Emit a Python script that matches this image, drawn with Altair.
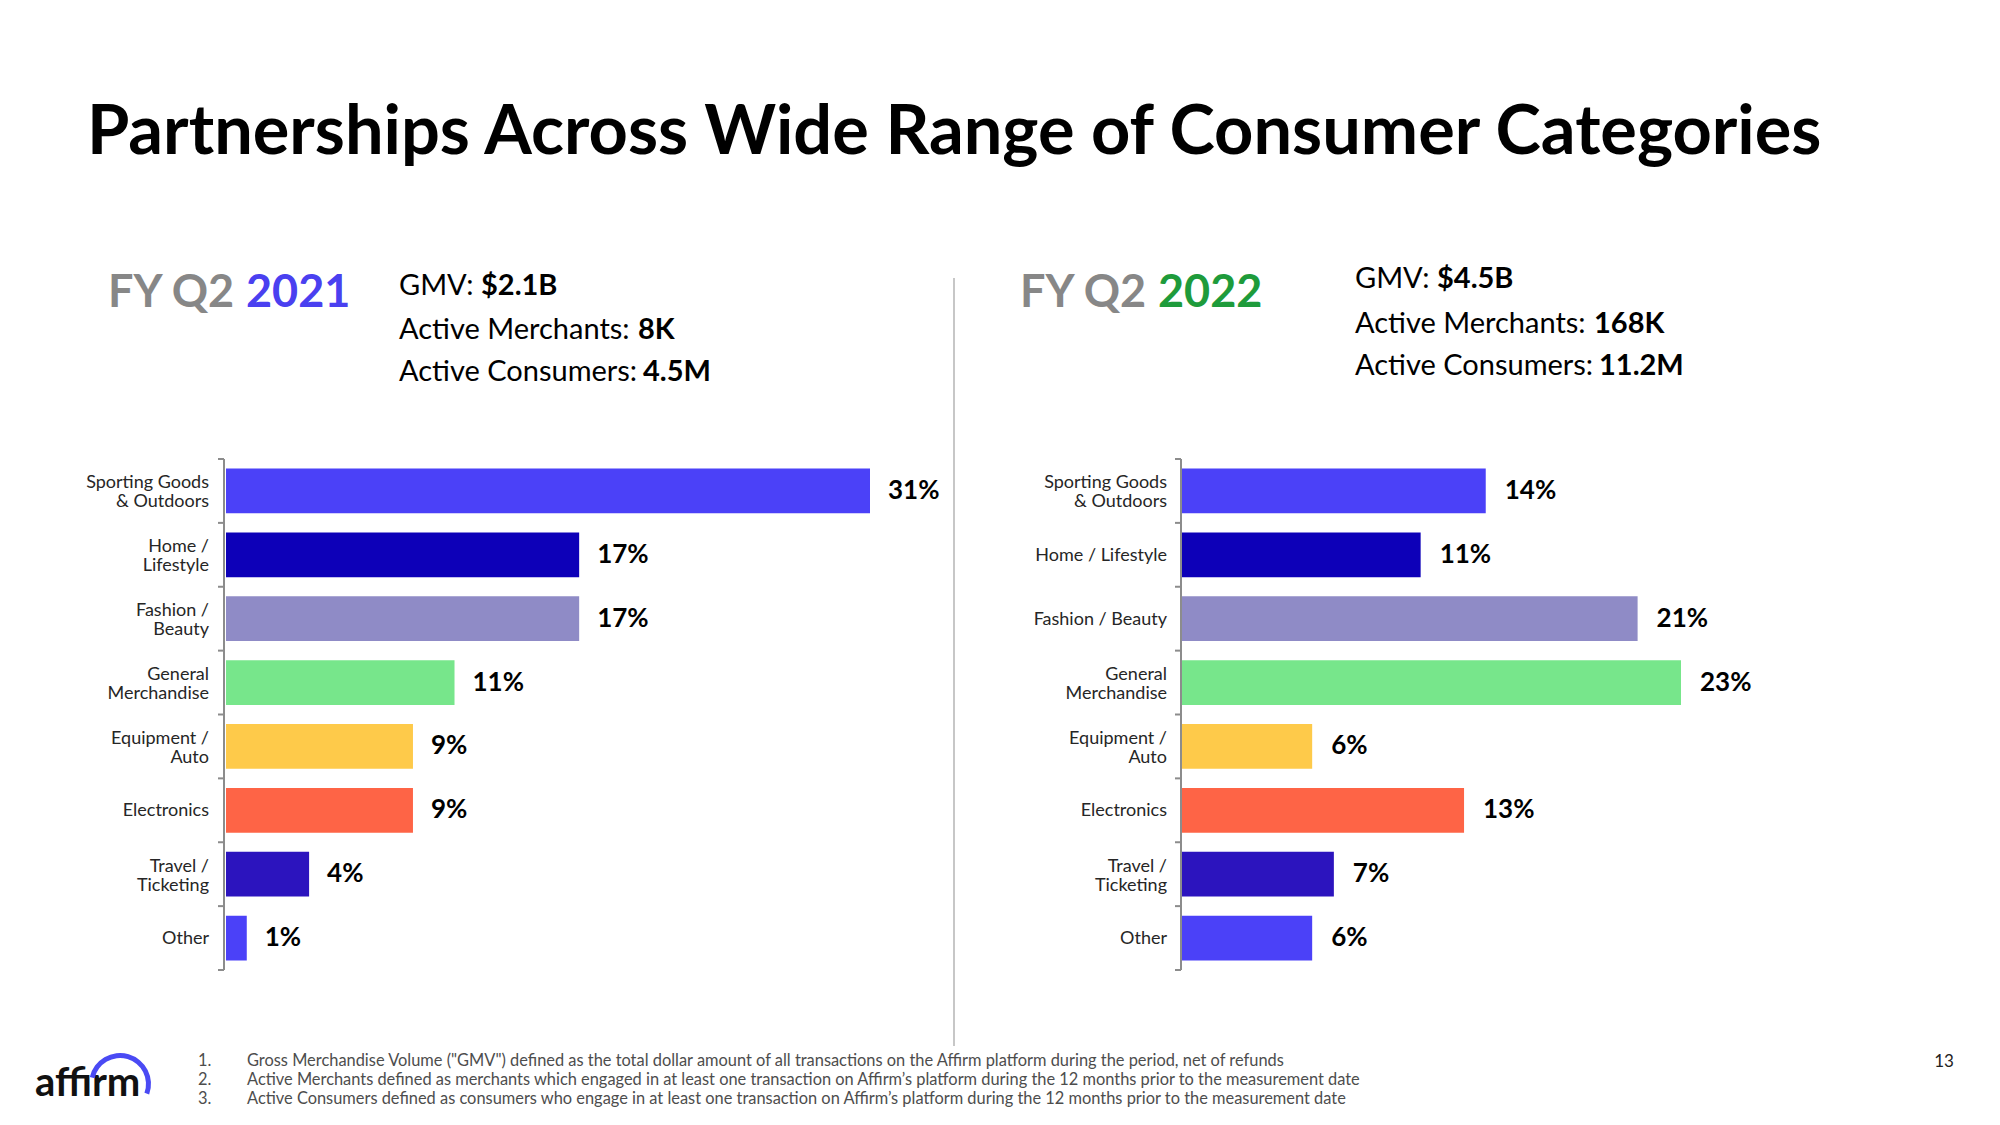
import altair as alt
import pandas as pd

# ---------------- data ----------------
categories = ["Sporting Goods & Outdoors", "Home / Lifestyle", "Fashion / Beauty",
              "General Merchandise", "Equipment / Auto", "Electronics",
              "Travel / Ticketing", "Other"]
labels_2021 = ["Sporting Goods\n& Outdoors", "Home /\nLifestyle", "Fashion /\nBeauty",
               "General\nMerchandise", "Equipment /\nAuto", "Electronics",
               "Travel /\nTicketing", "Other"]
labels_2022 = ["Sporting Goods\n& Outdoors", "Home / Lifestyle", "Fashion / Beauty",
               "General\nMerchandise", "Equipment /\nAuto", "Electronics",
               "Travel /\nTicketing", "Other"]
share_2021 = [31, 17, 17, 11, 9, 9, 4, 1]
share_2022 = [14, 11, 21, 23, 6, 13, 7, 6]
bar_colors = ["#4B41F8", "#0D00B8", "#8F8BC6", "#77E68B", "#FECA4A", "#FE6446",
              "#2C14BE", "#4B41F8"]

stat_names = ["GMV: ", "Active Merchants: ", "Active Consumers: "]
stats_2021 = ["$2.1B", "8K", "4.5M"]
stats_2022 = ["$4.5B", "168K", "11.2M"]

footnotes = [
    "Gross Merchandise Volume (\"GMV\") defined as the total dollar amount of all transactions on the Affirm platform during the period, net of refunds",
    "Active Merchants defined as merchants which engaged in at least one transaction on Affirm\u2019s platform during the 12 months prior to the measurement date",
    "Active Consumers defined as consumers who engage in at least one transaction on Affirm\u2019s platform during the 12 months prior to the measurement date",
]

TITLE = "Partnerships Across Wide Range of Consumer Categories"
FONT = "Lato"
W, H = 1984, 1109

# ---------------- helpers ----------------
def txt(s, x, y, size, color="#000000", weight="normal", align="left", baseline="middle"):
    return alt.Chart(pd.DataFrame({"t": [s]})).mark_text(
        align=align, baseline=baseline, fontSize=size, fontWeight=weight,
        color=color, font=FONT
    ).encode(x=alt.value(x), y=alt.value(y), text="t:N")


def rule(x, x2, y, y2, color, width):
    return alt.Chart(pd.DataFrame({"a": [0]})).mark_rule(
        color=color, strokeWidth=width
    ).encode(x=alt.value(x), x2=alt.value(x2), y=alt.value(y), y2=alt.value(y2))


Y_RANGE = [451, 962]
STEP = (Y_RANGE[1] - Y_RANGE[0]) / 8.0
AXIS_COLOR = "#8C8C8C"
LINE_H = 19


def panel(labels, values, xmax, xrange, axis_x, label_x, value_dx):
    df = pd.DataFrame({"lab": labels, "cat": categories, "v": values,
                       "pct": [f"{v}%" for v in values]})
    yscale = alt.Scale(domain=labels, range=Y_RANGE, paddingInner=0.3, paddingOuter=0.15)
    xscale = alt.Scale(domain=[0, xmax], range=xrange)
    base = alt.Chart(df)
    y = alt.Y("lab:N", sort=labels, scale=yscale, axis=None)
    x = alt.X("v:Q", scale=xscale, axis=None)
    bars = base.mark_bar().encode(
        x=x, y=y,
        color=alt.Color("cat:N", scale=alt.Scale(domain=categories, range=bar_colors), legend=None),
    )
    vals = base.mark_text(align="left", baseline="middle", dx=value_dx, fontSize=26,
                          fontWeight="bold", color="#000000", font=FONT).encode(
        x=x, y=y, text="pct:N")
    multi = "indexof(datum.lab, '\\n') >= 0"
    cats_one = base.transform_filter("!(" + multi + ")").mark_text(
        align="right", baseline="middle", fontSize=18, lineHeight=LINE_H, dy=1,
        color="#262626", font=FONT).encode(
        x=alt.value(label_x), y=y, text="lab:N")
    cats_two = base.transform_filter(multi).mark_text(
        align="right", baseline="middle", fontSize=18, lineHeight=LINE_H, lineBreak="\n",
        dy=-LINE_H / 2 + 2, color="#262626", font=FONT).encode(
        x=alt.value(label_x), y=y, text="lab:N")
    ticks = base.mark_rule(color=AXIS_COLOR, strokeWidth=2, yOffset=-STEP * 0.15).encode(
        x=alt.value(axis_x - 6), x2=alt.value(axis_x),
        y=alt.Y("lab:N", sort=labels, scale=yscale, axis=None, bandPosition=0))
    last = base.transform_filter(alt.datum.cat == "Other").mark_rule(
        color=AXIS_COLOR, strokeWidth=2, yOffset=STEP * 0.15).encode(
        x=alt.value(axis_x - 6), x2=alt.value(axis_x),
        y=alt.Y("lab:N", sort=labels, scale=yscale, axis=None, bandPosition=1))
    axis_line = rule(axis_x, axis_x, Y_RANGE[0], Y_RANGE[1], AXIS_COLOR, 2)
    return alt.layer(bars, vals, cats_one, cats_two, ticks, last, axis_line)


left = panel(labels_2021, share_2021, 31, [218, 862], 216, 201, 18)
right = panel(labels_2022, share_2022, 23, [1174, 1673], 1173, 1159, 19)

layers = [left, right]

# title
layers.append(txt(TITLE, 79, 146, 68.5, weight="bold", baseline="alphabetic"))

# period headings
layers.append(txt("FY Q2", 100, 299, 45, color="#878787", weight="bold", baseline="alphabetic"))
layers.append(txt("2021", 238, 299, 45, color="#4A40F0", weight="bold", baseline="alphabetic"))
layers.append(txt("FY Q2", 1012, 299, 45, color="#878787", weight="bold", baseline="alphabetic"))
layers.append(txt("2022", 1150, 299, 45, color="#1E9B3B", weight="bold", baseline="alphabetic"))

# stats
left_y = [278, 322, 364]
right_y = [271, 316, 358]
val_offsets = [82, 239, 244]
for i in range(3):
    layers.append(txt(stat_names[i], 391, left_y[i], 29))
    layers.append(txt(stats_2021[i], 391 + val_offsets[i], left_y[i], 29, weight="bold"))
    layers.append(txt(stat_names[i], 1347, right_y[i], 29))
    layers.append(txt(stats_2022[i], 1347 + val_offsets[i], right_y[i], 29, weight="bold"))

# separator
layers.append(rule(946, 946, 270, 1038, "#B4B4B4", 1.5))

# footnotes
fn_y = [1053, 1072, 1091]
for i, f in enumerate(footnotes):
    layers.append(txt(f"{i + 1}.", 190, fn_y[i], 16.4, color="#4D4D4D"))
    layers.append(txt(f, 239, fn_y[i], 16.4, color="#4D4D4D"))

# page number
layers.append(txt("13", 1936, 1054, 17, color="#222222", align="center"))

# logo
layers.append(txt("affirm", 27, 1088, 40, color="#111111", weight="bold", baseline="alphabetic"))
layers.append(
    alt.Chart(pd.DataFrame({"a": [0]})).mark_arc(
        color="#4A4AF4", radius=31, radius2=26, theta=4.94, theta2=8.2
    ).encode(x=alt.value(112), y=alt.value(1076))
)

chart = alt.layer(*layers).resolve_scale(
    x="independent", y="independent"
).properties(
    width=W, height=H, autosize=alt.AutoSizeParams(type="none"), padding=0,
    background="white"
).configure_view(stroke=None)

chart.save("out.html", embed_options={"renderer": "svg", "actions": False})
